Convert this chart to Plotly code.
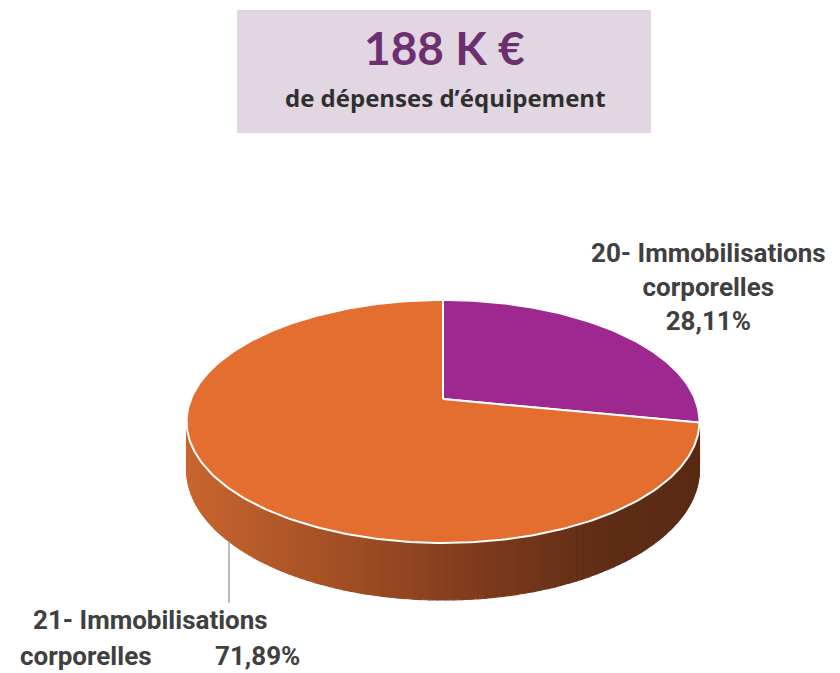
import numpy as np
import plotly.graph_objects as go

# ---------------- data ----------------
categories = ["20- Immobilisations corporelles", "21- Immobilisations corporelles"]
values = [28.11, 71.89]
pct_labels = ["28,11%", "71,89%"]
slice_colors = ["#9D288F", "#E46E30"]
title_value = "188 K €"
title_sub = "de dépenses d’équipement"

# ---------------- 3D pie geometry (pixel space) ----------------
CX, CY = 443, 399      # projected pie centre
F, G, P = 252, 117.3, 0.185   # horizontal radius, vertical radius, perspective
H = 46.5               # thickness

def proj(phi_deg, z=0.0):
    phi = np.radians(phi_deg)
    u, v = np.cos(phi), np.sin(phi)
    s = 1.0 / (1.0 + P * v)
    return CX + F * u * s, CY - G * v * s + H * z * s

def side_color(x):
    stops = [(190, (200, 101, 46)), (443, (136, 64, 31)), (600, (96, 45, 22)), (700, (90, 42, 20))]
    if x <= stops[0][0]:
        c = stops[0][1]
    elif x >= stops[-1][0]:
        c = stops[-1][1]
    else:
        for (x0, c0), (x1, c1) in zip(stops[:-1], stops[1:]):
            if x0 <= x <= x1:
                t = (x - x0) / (x1 - x0)
                c = tuple(c0[i] + (c1[i] - c0[i]) * t for i in range(3))
                break
    return "rgb(%d,%d,%d)" % tuple(int(round(v)) for v in c)

total = sum(values)
angles = []
a = 90.0
for v in values:
    a1 = a - 360.0 * v / total
    angles.append((a, a1))
    a = a1

vis_lo = -180 + np.degrees(np.arcsin(P))
vis_hi = -np.degrees(np.arcsin(P))

fig = go.Figure()

# side walls
for (a0, a1), name in zip(angles, categories):
    lo, hi = max(a1, vis_lo), min(a0, vis_hi)
    if hi <= lo:
        continue
    n = max(2, int((hi - lo) / 1.5))
    phis = np.linspace(lo, hi, n + 1)
    for pa, pb in zip(phis[:-1], phis[1:]):
        xa, ya = proj(pa)
        xb, yb = proj(pb)
        xc, yc = proj(pb, 1)
        xd, yd = proj(pa, 1)
        col = side_color((xa + xb) / 2)
        fig.add_trace(go.Scatter(x=[xa, xb, xc, xd, xa], y=[ya, yb, yc, yd, ya],
                                 mode="lines", fill="toself", fillcolor=col,
                                 line=dict(color=col, width=1.2),
                                 hoverinfo="skip", showlegend=False))

# top faces
for (a0, a1), col, name, v in zip(angles, slice_colors, categories, values):
    phis = np.linspace(a0, a1, int(abs(a0 - a1)) + 2)
    xs = [CX]; ys = [CY]
    for p in phis:
        x, y = proj(p)
        xs.append(x); ys.append(y)
    xs.append(CX); ys.append(CY)
    fig.add_trace(go.Scatter(x=xs, y=ys, mode="lines", fill="toself", fillcolor=col,
                             line=dict(color="white", width=2), name=name,
                             hoverinfo="text", text="%s: %s" % (name, v),
                             showlegend=False))

# ---------------- annotations ----------------
lab_font = dict(family="Roboto", size=26, color="#404040")
annotations = [
    dict(x=444, y=47, text="<b>%s</b>" % title_value, showarrow=False,
         font=dict(family="Lato", size=46, color="#6B3070")),
    dict(x=445, y=97, text="<b>%s</b>" % title_sub, showarrow=False,
         font=dict(family="Open Sans", size=24, color="#2F2F2F")),
    dict(x=708, y=287, text="<b>20- Immobilisations<br>corporelles<br>%s</b>" % pct_labels[0],
         showarrow=False, font=lab_font, align="center"),
    dict(x=150, y=620, text="<b>21- Immobilisations</b>", showarrow=False, font=lab_font),
    dict(x=86, y=656, text="<b>corporelles</b>", showarrow=False, font=lab_font),
    dict(x=257, y=656, text="<b>%s</b>" % pct_labels[1], showarrow=False, font=lab_font),
]
for an in annotations:
    an.update(xref="x", yref="y")

shapes = [
    dict(type="rect", xref="x", yref="y", x0=237, x1=651, y0=10, y1=133,
         fillcolor="#E2D6E2", line=dict(width=0), layer="below"),
    dict(type="line", xref="x", yref="y", x0=229, x1=229, y0=541, y1=603,
         line=dict(color="#A6A6A6", width=1.5)),
]

fig.update_layout(
    width=840, height=673,
    margin=dict(l=0, r=0, t=0, b=0),
    paper_bgcolor="white", plot_bgcolor="white",
    xaxis=dict(range=[0, 840], visible=False, fixedrange=True),
    yaxis=dict(range=[673, 0], visible=False, fixedrange=True),
    annotations=annotations, shapes=shapes,
    showlegend=False,
)

fig.write_html("out.html", config={"displayModeBar": False},
               post_script="document.body.style.margin='0px';document.body.style.overflow='hidden';")
